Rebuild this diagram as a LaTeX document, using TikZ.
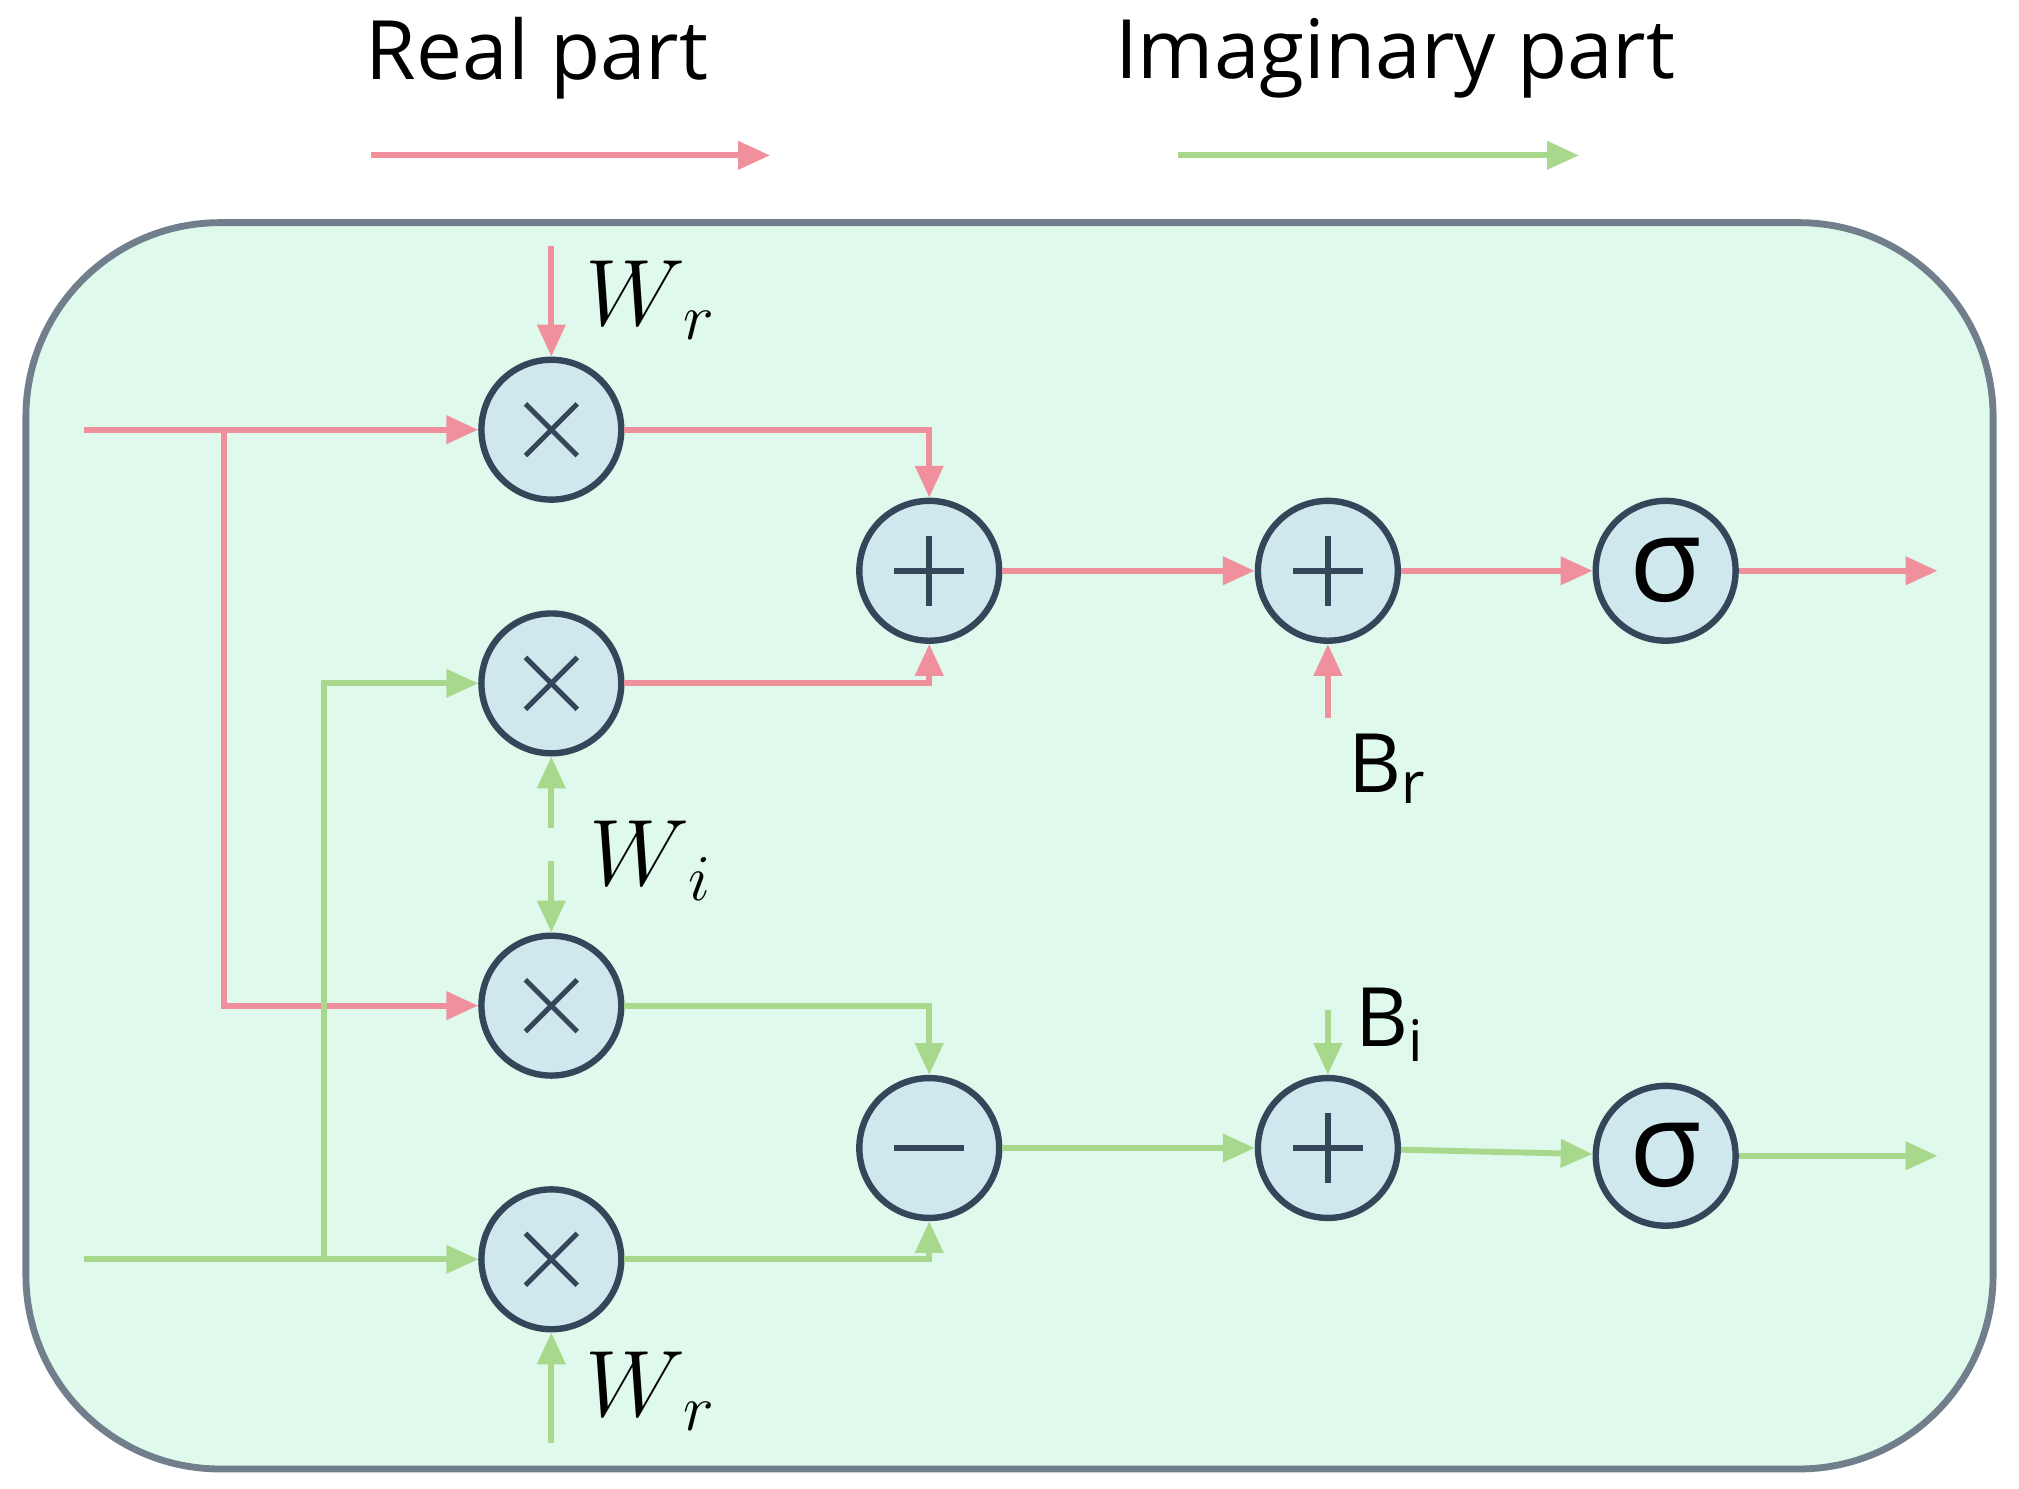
\documentclass[tikz,border=0pt]{standalone}
\usepackage{fontspec}
\setmainfont{Open Sans}
\usetikzlibrary{arrows.meta,positioning}
\definecolor{realc}{HTML}{F0909C}
\definecolor{imagc}{HTML}{A8D88C}
\definecolor{boxfill}{HTML}{DFF9EC}
\definecolor{opfill}{HTML}{CFE8EE}
\definecolor{opline}{HTML}{34475A}
\tikzset{
  op/.style={circle, draw=opline, line width=1.4pt, fill=opfill, minimum size=1.08cm, inner sep=0pt},
  re/.style={draw=realc, line width=1.3pt, -{Triangle[length=7pt,width=6pt]}},
  im/.style={draw=imagc, line width=1.3pt, -{Triangle[length=7pt,width=6pt]}},
  lbl/.style={font=\fontsize{18}{22}\selectfont},
  wlbl/.style={font=\fontsize{22}{26}\selectfont}
}
\newcommand{\timesmark}[1]{\draw[opline, line width=1.1pt] ([shift={(-0.2cm,-0.2cm)}]#1.center) -- ([shift={(0.2cm,0.2cm)}]#1.center) ([shift={(-0.2cm,0.2cm)}]#1.center) -- ([shift={(0.2cm,-0.2cm)}]#1.center);}
\newcommand{\plusmark}[1]{\draw[opline, line width=1.3pt] ([xshift=-0.27cm]#1.center) -- ([xshift=0.27cm]#1.center) ([yshift=-0.27cm]#1.center) -- ([yshift=0.27cm]#1.center);}
\begin{document}
\begin{tikzpicture}[x=0.01cm,y=-0.01cm]
  \useasboundingbox (0,0) rectangle (1560,1150);
  % legend
  \node[lbl] (realtxt) at (415,45) {Real part};
  \node[lbl] (imagtxt) at (1078,45) {Imaginary part};
  \coordinate (rl1) at (287,120); \coordinate (rl2) at (595,120);
  \coordinate (il1) at (910,120); \coordinate (il2) at (1220,120);
  \draw[re] (rl1) -- (rl2);
  \draw[im] (il1) -- (il2);
  % box
  \draw[draw=opline!70, line width=1.5pt, fill=boxfill, rounded corners=1.5cm] (20,172) rectangle (1540,1135);
  % operators
  \node[op] (m1) at (426,332) {};
  \node[op] (m2) at (426,528) {};
  \node[op] (m3) at (426,777) {};
  \node[op] (m4) at (426,973) {};
  \node[op] (a1) at (718,441) {};
  \node[op] (s1) at (718,887) {};
  \node[op] (a2) at (1026,441) {};
  \node[op] (a3) at (1026,887) {};
  \node[op, font=\fontsize{26}{26}\selectfont] (g1) at (1287,441) {σ};
  \node[op, font=\fontsize{26}{26}\selectfont] (g2) at (1287,893) {σ};
  \timesmark{m1} \timesmark{m2} \timesmark{m3} \timesmark{m4}
  \plusmark{a1} \plusmark{a2} \plusmark{a3}
  \draw[opline, line width=1.3pt] ([xshift=-0.27cm]s1.center) -- ([xshift=0.27cm]s1.center);
  % inputs
  \coordinate (inr) at (65,332);
  \coordinate (ini) at (65,973);
  \coordinate (brr) at (173,332);
  \coordinate (bri) at (250,973);
  \draw[re] (inr) -- (m1);
  \draw[re] (brr) |- (m3);
  \draw[im] (ini) -- (m4);
  \draw[im] (bri) |- (m2);
  % weights
  \coordinate (wr1) at (426,190);
  \coordinate (wi1) at (426,640);
  \coordinate (wi2) at (426,665);
  \coordinate (wr2) at (426,1115);
  \draw[re] (wr1) -- (m1);
  \draw[im] (wi1) -- (m2);
  \draw[im] (wi2) -- (m3);
  \draw[im] (wr2) -- (m4);
  \node[wlbl] (wrtop) at (503,232) {$W_{\,r}$};
  \node[wlbl] (wimid) at (503,665) {$W_{\,i}$};
  \node[wlbl] (wrbot) at (503,1075) {$W_{\,r}$};
  % products
  \draw[re] (m1) -| (a1);
  \draw[re] (m2) -| (a1);
  \draw[im] (m3) -| (s1);
  \draw[im] (m4) -| (s1);
  % biases
  \coordinate (br) at (1026,555);
  \coordinate (bi) at (1026,780);
  \draw[re] (br) -- (a2);
  \draw[im] (bi) -- (a3);
  \node[lbl] (brlbl) at (1072,594) {B\textsubscript{r}};
  \node[lbl] (bilbl) at (1074,792) {B\textsubscript{i}};
  % outputs
  \coordinate (outr) at (1497,441);
  \coordinate (outi) at (1497,893);
  \draw[re] (a1) -- (a2);
  \draw[re] (a2) -- (g1);
  \draw[re] (g1) -- (outr);
  \draw[im] (s1) -- (a3);
  \draw[im] (a3) -- (g2);
  \draw[im] (g2) -- (outi);
\end{tikzpicture}
\end{document}
